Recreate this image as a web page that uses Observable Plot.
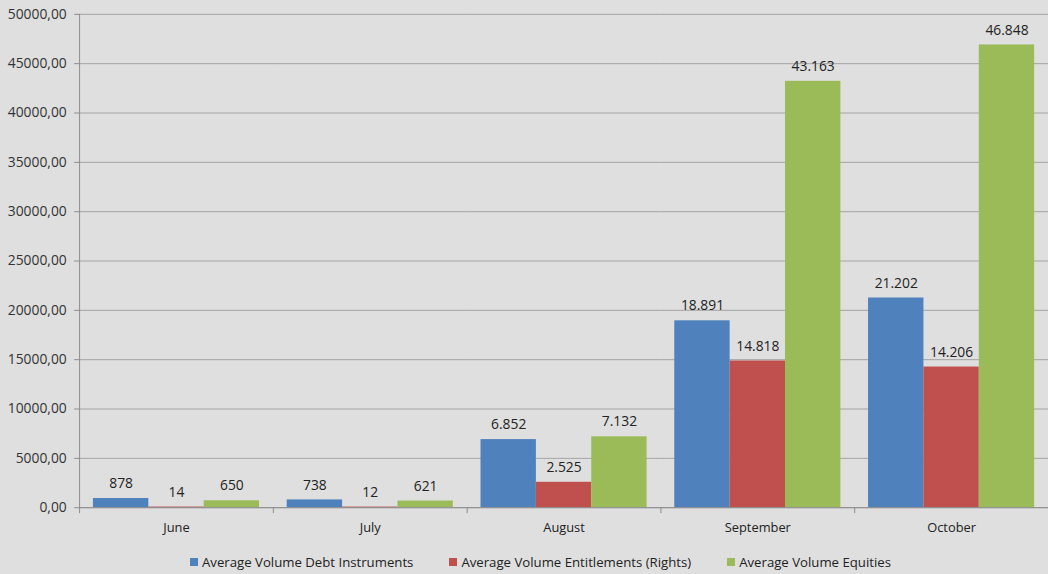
<!DOCTYPE html>
<html>
<head>
<meta charset="utf-8">
<script src="https://cdn.jsdelivr.net/npm/d3@7"></script>
<script src="https://cdn.jsdelivr.net/npm/@observablehq/plot@0.6"></script>
<style>
  html, body { margin: 0; padding: 0; background: #dfdfdf; overflow: hidden; }
  body { width: 1048px; height: 574px; font-family: "Open Sans", "Noto Sans", sans-serif; }
  #chart { width: 1048px; height: 542px; overflow: hidden; }
  #legend { display: flex; justify-content: center; align-items: center; height: 40px; padding-left: 33px; box-sizing: border-box; width: 1048px; font-size: 13.2px; color: #222; }
  .item { display: flex; align-items: center; margin: 0 18px; }
  .sw { width: 8px; height: 8px; margin-right: 4px; }
</style>
</head>
<body>
<div id="chart"></div>
<div id="legend"></div>
<script>
const months = ["June", "July", "August", "September", "October"];
const series = ["Average Volume Debt Instruments", "Average Volume Entitlements (Rights)", "Average Volume Equities"];
const debt = [878, 738, 6852, 18891, 21202];
const rights = [14, 12, 2525, 14818, 14206];
const equities = [650, 621, 7132, 43163, 46848];
const colors = ["#4f81bd", "#c0504d", "#9bbb59"];
const yTicks = [0, 5000, 10000, 15000, 20000, 25000, 30000, 35000, 40000, 45000, 50000];

const values = [debt, rights, equities];
const rows = months.flatMap((m, i) => series.map((s, j) => ({month: m, series: s, value: values[j][i]})));

const loc = d3.formatLocale({decimal: ",", thousands: ".", grouping: [3], currency: ["", ""]});
const fmtLabel = loc.format(",d");
const fmtAxis = loc.format(".2f");

const chart = Plot.plot({
  width: 1060,
  height: 542,
  marginLeft: 80,
  marginRight: 0,
  marginTop: 14,
  marginBottom: 29,
  style: {background: "transparent", fontFamily: "'Open Sans', 'Noto Sans', sans-serif", fontSize: "13px", color: "#333", overflow: "visible"},
  fx: {domain: months, padding: 0, label: null},
  x: {domain: series, paddingInner: 0, paddingOuter: 0.25, axis: null},
  y: {domain: [0, 50000], label: null},
  color: {domain: series, range: colors},
  marks: [
    Plot.gridY(yTicks, {stroke: "#a3a3a3", strokeOpacity: 1}),
    Plot.barY(rows, {fx: "month", x: "series", y: "value", fill: "series", insetTop: -0.5}),
    Plot.text(rows, {fx: "month", x: "series", y: "value", text: d => fmtLabel(d.value), dy: -11, lineAnchor: "bottom", fill: "#222", fontSize: 14}),
    Plot.axisY({ticks: yTicks, tickFormat: fmtAxis, tickSize: 5, tickPadding: 8, stroke: "#8c8c8c", fill: "#333", label: null, fontSize: 14}),
    Plot.axisFx({anchor: "bottom", tickSize: 0, tickPadding: 15, label: null, fill: "#222", fontSize: 13}),
    Plot.ruleX([months[0]], {fx: d => d, x: () => series[0], dx: -42, y1: 0, y2: 50000, stroke: "#8c8c8c"}),
    Plot.ruleX(months, {fx: d => d, x: () => series[0], dx: -42, y1: 0, y2: -600, stroke: "#8c8c8c"}),
    Plot.ruleY([0], {stroke: "#8c8c8c"})
  ]
});
document.getElementById("chart").appendChild(chart);

const legend = document.getElementById("legend");
series.forEach((s, i) => {
  const item = document.createElement("div");
  item.className = "item";
  const sw = document.createElement("span");
  sw.className = "sw";
  sw.style.background = colors[i];
  const t = document.createElement("span");
  t.textContent = s;
  item.appendChild(sw);
  item.appendChild(t);
  legend.appendChild(item);
});
</script>
</body>
</html>
